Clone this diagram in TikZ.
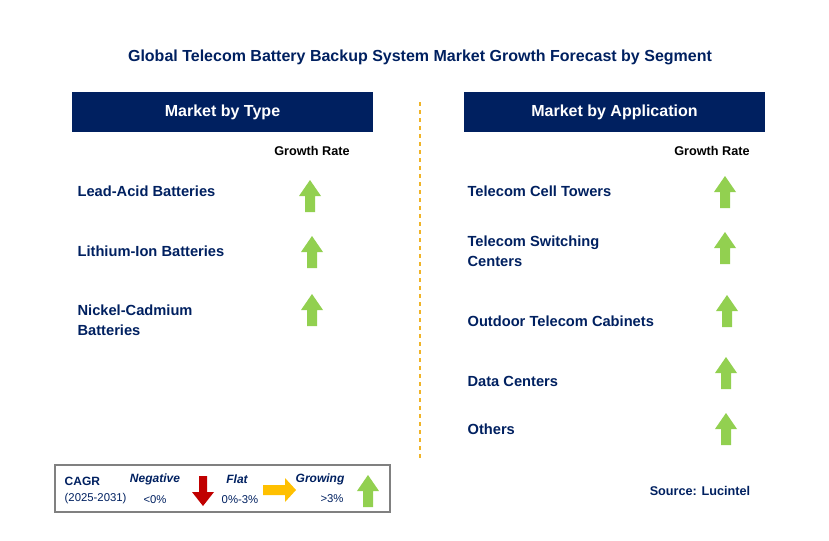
\documentclass[tikz,border=0pt]{standalone}
\usepackage{fontspec}
\setmainfont{Liberation Sans}
\definecolor{ngreen}{RGB}{146,208,80}
\definecolor{navy}{RGB}{0,32,96}
\definecolor{dred}{RGB}{192,0,0}
\definecolor{amber}{RGB}{255,192,0}
\definecolor{dorange}{RGB}{240,180,40}
\begin{document}
\begin{tikzpicture}[x=0.75pt,y=-0.75pt,
  hdr/.style={fill=navy,text=white,font=\fontsize{12}{14}\selectfont\bfseries,minimum width=301*0.75pt,minimum height=40*0.75pt,inner sep=0},
  lbl/.style={anchor=west,inner sep=1pt,text=navy,font=\fontsize{11}{15}\selectfont\bfseries,align=left},
  gr/.style={text=black,font=\fontsize{9.5}{11}\selectfont\bfseries},
  lg/.style={text=navy,font=\fontsize{8.5}{10}\selectfont},
  lgb/.style={text=navy,font=\fontsize{9}{10}\selectfont\bfseries\itshape}]
\useasboundingbox (0,0) rectangle (829,540);
\newcommand{\uparr}[3]{\fill[#3] (#1-5,#2+16) -- (#1-5,#2) -- (#1-11,#2) -- (#1,#2-16) -- (#1+11,#2) -- (#1+5,#2) -- (#1+5,#2+16) -- cycle;}
\node[text=navy,font=\fontsize{12}{14}\selectfont\bfseries] (title) at (420,57) {Global Telecom Battery Backup System Market Growth Forecast by Segment};
\node[hdr] (h1) at (222.5,112) {Market by Type};
\node[hdr] (h2) at (614.5,112) {Market by Application};
\draw[dashed,thick,color=dorange] (420,102) -- (420,460);
\node[gr] (g1) at (312,151) {Growth Rate};
\node[gr] (g2) at (712,151) {Growth Rate};
\node[lbl] (a1) at (76,191) {Lead-Acid Batteries};
\node[lbl] (a2) at (76,251) {Lithium-Ion Batteries};
\node[lbl] (a3) at (76,320) {Nickel-Cadmium\\Batteries};
\uparr{310}{196}{ngreen}
\uparr{312}{252}{ngreen}
\uparr{312}{310}{ngreen}
\node[lbl] (b1) at (466,191) {Telecom Cell Towers};
\node[lbl] (b2) at (466,251) {Telecom Switching\\Centers};
\node[lbl] (b3) at (466,321) {Outdoor Telecom Cabinets};
\node[lbl] (b4) at (466,381) {Data Centers};
\node[lbl] (b5) at (466,429) {Others};
\uparr{725}{192}{ngreen}
\uparr{725}{248}{ngreen}
\uparr{727}{311}{ngreen}
\uparr{726}{373}{ngreen}
\uparr{726}{429}{ngreen}
\draw[gray,thick] (55,465) rectangle (390,512);
\node[lgb,font=\fontsize{9}{10}\selectfont\bfseries,anchor=west] (c1) at (60,481) {CAGR};
\node[lg,anchor=west] (c2) at (60,499) {(2025-2031)};
\node[lgb] (n1) at (155,479) {Negative};
\node[lg] (n2) at (155,500) {<0\%};
\fill[dred] (199,476) -- (207,476) -- (207,492) -- (214,492) -- (203,506) -- (192,492) -- (199,492) -- cycle;
\node[lgb] (f1) at (237,479) {Flat};
\node[lg] (f2) at (240,500) {0\%-3\%};
\fill[amber] (263,485) -- (285,485) -- (285,478) -- (296,490) -- (285,502) -- (285,495) -- (263,495) -- cycle;
\node[lgb] (w1) at (320,479) {Growing};
\node[lg] (w2) at (332,499) {>3\%};
\uparr{368}{491}{ngreen}
\node[text=navy,font=\fontsize{9.5}{11}\selectfont\bfseries] (src) at (700,491) {Source: Lucintel};
\end{tikzpicture}
\end{document}
